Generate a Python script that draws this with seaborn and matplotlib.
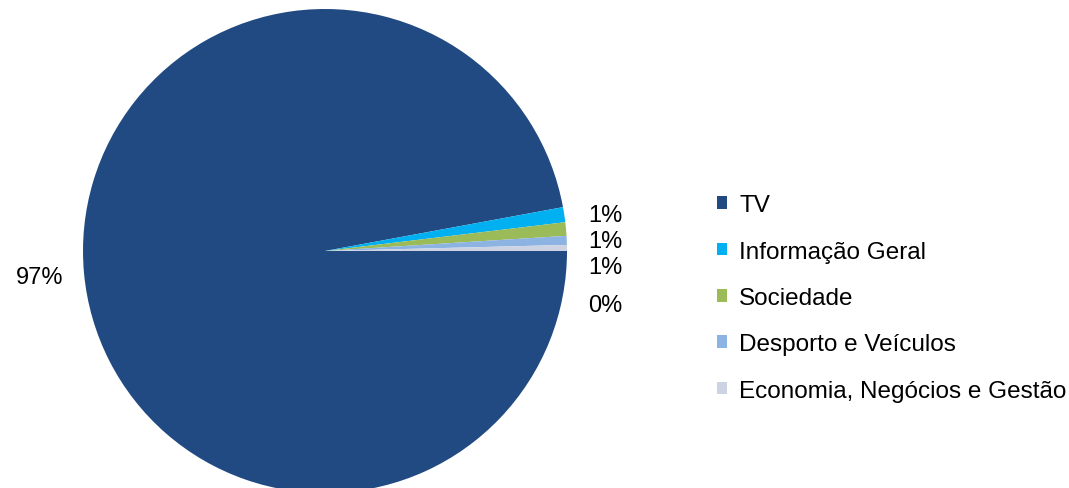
import matplotlib
matplotlib.use("Agg")
import matplotlib.pyplot as plt
import matplotlib.patches as mpatches
import seaborn as sns

# Share of content by category (%)
categories = ["TV", "Informação Geral", "Sociedade", "Desporto e Veículos",
              "Economia, Negócios e Gestão"]
shares = [97.1, 1.0, 0.9, 0.6, 0.4]
colors = ["#214A82", "#00B0F0", "#9BBB59", "#8DB3E2", "#CDD3E3"]

# Label anchor points (pie data coordinates, radius 1)
label_pos = [(-1.178, -0.107), (1.157, 0.149), (1.157, 0.041),
             (1.157, -0.066), (1.157, -0.223)]

sns.set_theme(style="white")
plt.rcParams["font.family"] = ["Liberation Sans", "DejaVu Sans"]

W, H = 1069, 489
fig = plt.figure(figsize=(W / 100, H / 100), dpi=100)
fig.patch.set_facecolor("white")

cx, cy, r = 325, 252, 242
ax = fig.add_axes([(cx - r) / W, (H - cy - r) / H, 2 * r / W, 2 * r / H])
wedges, _ = ax.pie(shares, colors=colors, startangle=0, counterclock=False,
                   radius=1, wedgeprops=dict(linewidth=0))
ax.set_xlim(-1, 1)
ax.set_ylim(-1, 1)
ax.set_aspect("equal")
ax.axis("off")

for val, (x, y) in zip(shares, label_pos):
    ax.text(x, y, f"{round(val):.0f}%", ha="center", va="center",
            fontsize=17, color="#000000")

handles = [mpatches.Patch(facecolor=c, edgecolor="none") for c in colors]
leg = fig.legend(handles, categories, loc="center left",
                 bbox_to_anchor=(717 / W, (H - 299) / H), frameon=False,
                 fontsize=17.5, handlelength=0.42, handleheight=0.42,
                 handletextpad=0.5, labelspacing=1.0, borderaxespad=0,
                 borderpad=0)
for t in leg.get_texts():
    t.set_color("#000000")

fig.savefig("out.png", dpi=100, facecolor="white")
